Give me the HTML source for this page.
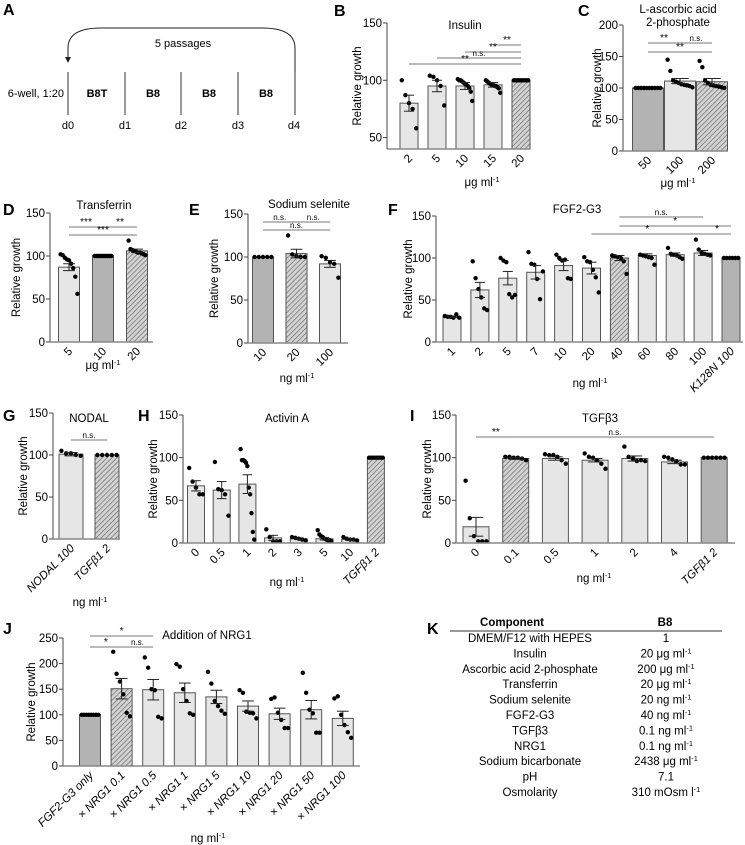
<!DOCTYPE html>
<html><head><meta charset="utf-8">
<style>
html,body{margin:0;padding:0;background:#fff;}
svg{display:block;font-family:"Liberation Sans",Arial,sans-serif;}
</style></head>
<body>
<svg id="fig" width="745" height="845" viewBox="0 0 745 845" xmlns="http://www.w3.org/2000/svg">
<defs>
<pattern id="hatch" patternUnits="userSpaceOnUse" width="3.5" height="3.5" patternTransform="rotate(45)">
<rect width="3.5" height="3.5" fill="#d4d4d4"/><line x1="0" y1="0" x2="0" y2="3.5" stroke="#6a6a6a" stroke-width="1.4"/>
</pattern>
</defs>
<!-- Panel A -->
<g font-size="11">
<text x="3" y="15" font-size="16" font-weight="bold">A</text>
<path d="M295,72 L295,48 Q295,28 262,28 L101,28 Q68,28 68,48 L68,58" fill="none" stroke="#222" stroke-width="1"/>
<path d="M65,57 L71,57 L68,63 Z" fill="#222"/>
<text x="183" y="47" text-anchor="middle">5 passages</text>
<g stroke="#333" stroke-width="1">
<line x1="68" y1="72" x2="68" y2="115"/><line x1="125" y1="72" x2="125" y2="115"/><line x1="181" y1="72" x2="181" y2="115"/><line x1="238" y1="72" x2="238" y2="115"/><line x1="295" y1="72" x2="295" y2="115"/>
</g>
<text x="64" y="97" text-anchor="end">6-well, 1:20</text>
<g font-weight="bold" text-anchor="middle">
<text x="97" y="97">B8T</text><text x="153" y="97">B8</text><text x="209" y="97">B8</text><text x="266" y="97">B8</text>
</g>
<g text-anchor="middle">
<text x="68" y="129">d0</text><text x="125" y="129">d1</text><text x="181" y="129">d2</text><text x="238" y="129">d3</text><text x="294" y="129">d4</text>
</g>
</g>
<!-- Panel K -->
<g font-size="11.5">
<text x="427" y="634" font-size="16" font-weight="bold">K</text>
<text x="512" y="626" text-anchor="middle" font-weight="bold">Component</text>
<text x="665" y="626" text-anchor="middle" font-weight="bold">B8</text>
<line x1="450" y1="631" x2="722" y2="631" stroke="#333" stroke-width="1"/>
<g id="ktable"></g>
</g>
<g id="charts"></g>
</svg>
<script>
// ---------- data ----------
const bCats=["2","5","10","15","20"];
const bMeans=[80,95,95,96,100];
const bSem=[7,5,3,2,0];
const bPts=[[100,87,80,75,58],[104,103,100,95,78],[101,100,100,99,98,97,96,95,93,90,82],[100,99,98,97,96,96,95,95,94,93,89],[100,100,100,100,100,100,100,100,100,100,100]];
const cCats=["50","100","200"];
const cMeans=[100,111,110];
const cSem=[0,4,5];
const cPts=[[100,100,100,100,100,100,100,100,100,100],[145,127,112,110,108,106,105,104,103,101],[143,133,112,108,105,104,103,102,101,100]];
const dCats=["5","10","20"];
const dMeans=[87,100,106];
const dSem=[4,0,2];
const dPts=[[102,101,98,96,95,91,86,76,56],[100,100,100,100,100,100,100,100,100,100],[118,108,107,106,105,104,104,103,102,101]];
const eCats=["10","20","100"];
const eMeans=[100,104,92];
const eSem=[0,5,4];
const ePts=[[100,100,100,100,100],[125,103,101,100,100],[101,99,94,92,76]];
const fCats=["1","2","5","7","10","20","40","60","80","100","K128N 100"];
const fMeans=[30,62,76,83,91,88,100,103,104,106,100];
const fSem=[1,9,8,8,6,7,3,2,2,3,0];
const fPts=[[31,30,30,29,33,29],[96,76,63,53,40,38],[100,97,95,57,53,56],[107,93,92,75,51,84],[104,100,97,98,76,75],[101,96,95,86,77,59],[103,102,101,100,96,81],[104,103,102,101,100,92],[112,105,104,103,101,99],[122,110,106,105,104,103],[100,100,100,100,100,100]];
const gCats=["NODAL 100","TGFβ1 2"];
const gMeans=[101,100];
const gSem=[2,0];
const gPts=[[105,102,102,100,99],[100,100,100,100,100]];
const hCats=["0","0.5","1","2","3","5","10","TGFβ1 2"];
const hMeans=[67,62,69,6,5,5,4,100];
const hSem=[6,10,11,3,1,1.5,1,0];
const hPts=[[88,72,65,57,57],[95,63,62,57,32],[110,97,97,96,94,90,65,57,35,13,4],[16,7,2,2,2],[7,6,5,4,3],[15,10,8,7,5,4,3,3,2],[7,5,4,4,3],[100,100,100,100,100,100,100,100]];
const iCats=["0","0.1","0.5","1","2","4","TGFβ1 2"];
const iMeans=[19,99,99,97,99,95,100];
const iSem=[11,1,2,2,3,2,0];
const iPts=[[73,29,8,2,2,2],[101,101,100,100,99,97],[104,103,103,101,97,93],[105,101,100,97,93,87],[113,101,99,96,97,96],[101,100,98,96,92,92],[100,100,100,100,100,100]];
const jCats=["FGF2-G3 only","× NRG1 0.1","× NRG1 0.5","× NRG1 1","× NRG1 5","× NRG1 10","× NRG1 20","× NRG1 50","× NRG1 100"];
const jMeans=[100,151,149,143,135,117,102,110,93];
const jSem=[0,20,20,19,13,10,11,18,14];
const jPts=[[100,100,100,100,100,100,100,100],[223,180,165,140,104,97],[212,192,150,148,96,93],[199,194,150,127,103,100],[184,161,127,117,108,102],[148,143,106,104,103,93],[131,134,104,90,74,74],[182,143,110,103,65,65],[132,136,100,80,66,55]];
const kComponents=["DMEM/F12 with HEPES","Insulin","Ascorbic acid 2-phosphate","Transferrin","Sodium selenite","FGF2-G3","TGFβ3","NRG1","Sodium bicarbonate","pH","Osmolarity"];
const kValues=["1","20 μg ml|-1","200 μg ml|-1","20 μg ml|-1","20 ng ml|-1","40 ng ml|-1","0.1 ng ml|-1","0.1 ng ml|-1","2438 μg ml|-1","7.1","310 mOsm l|-1"];

// ---------- helpers ----------
const NS='http://www.w3.org/2000/svg';
function mk(tag,attrs,parent){const e=document.createElementNS(NS,tag);for(const k in attrs)e.setAttribute(k,attrs[k]);parent.appendChild(e);return e;}
function supText(parent,x,y,str,anchor,fs){
  const t=mk('text',{x:x,y:y,'text-anchor':anchor,'font-size':fs},parent);
  const parts=str.split('|');
  t.appendChild(document.createTextNode(parts[0]));
  if(parts[1]){const s=mk('tspan',{'font-size':fs*0.65,dy:-4},t);s.textContent=parts[1];}
  return t;
}
const charts=document.getElementById('charts');
const fillFor={l:'#e6e6e6',d:'#b3b3b3',h:'url(#hatch)'};

function drawChart(p){
  const g=mk('g',{},charts);
  
  
  const yS=v=>p.yBot-(v-p.vmin)*(p.yBot-p.yTop)/(p.vmax-p.vmin);
  const xS=i=>p.c0+i*p.step;
  const L=mk('text',{x:p.lx,y:p.ly,'font-size':16,'font-weight':'bold'},g);
  L.textContent=p.id.toUpperCase();
  
  
  p.title.forEach((tl,k)=>{
    const t=mk('text',{x:p.tx,y:p.ty+k*13,'text-anchor':'middle','font-size':11.5},g);
    t.textContent=tl;
    
    
  });
  const ya=mk('line',{x1:p.ax,y1:yS(p.vmin),x2:p.ax,y2:yS(p.vmax),stroke:'#444','stroke-width':1},g);
  
  
  p.ticks.forEach(v=>{
    mk('line',{x1:p.ax-4,y1:yS(v),x2:p.ax,y2:yS(v),stroke:'#444','stroke-width':1},g);
    const t=mk('text',{x:p.ax-5,y:yS(v)+4,'text-anchor':'end','font-size':11.5},g);
    t.textContent=v;
    
    
  });
  const yt=mk('text',{x:0,y:0,'text-anchor':'middle','font-size':11.5,transform:`translate(${p.ytx},${(p.yBot+p.yTop)/2}) rotate(-90)`},g);
  yt.textContent='Relative growth';
  
  
  p.means.forEach((m,i)=>{
    const cx=xS(i);
    const r=mk('rect',{x:cx-p.bw/2,y:yS(m),width:p.bw,height:yS(p.vmin)-yS(m),fill:fillFor[p.kinds[i]],stroke:'#555','stroke-width':1},g);
    
    
  });
  p.pts.forEach((arr,i)=>{
    const cx=xS(i),n=arr.length,span=p.bw*0.8;
    arr.forEach((v,k)=>{
      const dx=n>1?-span/2+span*k/(n-1):0;
      const c=mk('circle',{cx:cx+dx,cy:yS(v),r:2.2,fill:'#000'},g);
      
      
    });
  });
  p.means.forEach((m,i)=>{
    const s=p.sem[i];if(!s)return;
    const cx=xS(i),w=p.bw*0.28;
    const eg=mk('g',{stroke:'#222','stroke-width':1},g);
    
    
    mk('line',{x1:cx,y1:yS(m-s),x2:cx,y2:yS(m+s)},eg);
    mk('line',{x1:cx-w,y1:yS(m+s),x2:cx+w,y2:yS(m+s)},eg);
    mk('line',{x1:cx-w,y1:yS(m-s),x2:cx+w,y2:yS(m-s)},eg);
  });
  const xa=mk('line',{x1:p.ax,y1:yS(p.vmin),x2:p.xEnd,y2:yS(p.vmin),stroke:'#888','stroke-width':1.6},g);
  
  
  p.cats.forEach((c,i)=>{
    const x=xS(i)+4,y=yS(p.vmin)+10;
    const it=/[A-Za-z×]/.test(c);
    const t=mk('text',{x:x,y:y,'text-anchor':'end','font-size':11.5,'font-style':it?'italic':'normal',transform:`rotate(-45 ${x} ${y})`},g);
    t.textContent=c;
    
    
  });
  const u=supText(g,p.ux,p.uy,p.unit,'middle',11.5);
  
  
  p.stats.forEach(s=>{
    const x1=xS(s[0]),x2=xS(s[1]);
    const ln=mk('line',{x1:x1,y1:s[2],x2:x2,y2:s[2],stroke:'#777','stroke-width':1},g);
    
    
    const t=mk('text',{x:(x1+x2)/2,y:s[2]-2,'text-anchor':'middle','font-size':s[3]==='n.s.'?8:10},g);
    t.textContent=s[3];
    
    
  });
}

drawChart({id:'b',cats:bCats,means:bMeans,sem:bSem,pts:bPts,kinds:['l','l','l','l','h'],ax:387,yBot:149,yTop:23,vmin:40,vmax:150,ticks:[50,100,150],c0:409,step:28,bw:18,xEnd:530,lx:334,ly:16,title:['Insulin'],tx:465,ty:29,unit:'μg ml|-1',ux:482,uy:186,ytx:361,
  stats:[[3,4,45,'**'],[2,4,52,'**'],[1,4,58,'n.s.'],[0,4,64,'**']]});
drawChart({id:'c',cats:cCats,means:cMeans,sem:cSem,pts:cPts,kinds:['d','l','h'],ax:623,yBot:151,yTop:25,vmin:0,vmax:200,ticks:[0,50,100,150,200],c0:648,step:32,bw:31,xEnd:728,lx:578,ly:16,title:['L-ascorbic acid','2-phosphate'],tx:678,ty:13,unit:'μg ml|-1',ux:678,uy:187,ytx:601,
  stats:[[0,1,43,'**'],[1,2,43,'n.s.'],[0,2,52,'**']]});
drawChart({id:'d',cats:dCats,means:dMeans,sem:dSem,pts:dPts,kinds:['l','d','h'],ax:50,yBot:342,yTop:213,vmin:0,vmax:150,ticks:[0,50,100,150],c0:69,step:34,bw:21,xEnd:153,lx:3,ly:215,title:['Transferrin'],tx:104,ty:209,unit:'μg ml|-1',ux:103,uy:369,ytx:20,
  stats:[[0,1,227,'***'],[1,2,227,'**'],[0,2,235,'***']]});
drawChart({id:'e',cats:eCats,means:eMeans,sem:eSem,pts:ePts,kinds:['d','h','l'],ax:248,yBot:343,yTop:214,vmin:0,vmax:150,ticks:[0,50,100,150],c0:263,step:33.5,bw:21,xEnd:348,lx:189,ly:215,title:['Sodium selenite'],tx:309,ty:208,unit:'ng ml|-1',ux:297,uy:382,ytx:218,
  stats:[[0,1,222,'n.s.'],[1,2,222,'n.s.'],[0,2,230,'n.s.']]});
drawChart({id:'f',cats:fCats,means:fMeans,sem:fSem,pts:fPts,kinds:['l','l','l','l','l','l','h','l','l','l','d'],ax:436,yBot:342,yTop:216,vmin:0,vmax:150,ticks:[0,50,100,150],c0:452,step:27.9,bw:18,xEnd:743,lx:388,ly:215,title:['FGF2-G3'],tx:577,ty:213,unit:'ng ml|-1',ux:590,uy:387,ytx:412,
  stats:[[6,9,217,'n.s.'],[6,10,226,'*'],[5,9,234,'*'],[9,10,234,'*']]});
drawChart({id:'g',cats:gCats,means:gMeans,sem:gSem,pts:gPts,kinds:['l','h'],ax:53,yBot:539,yTop:413,vmin:0,vmax:150,ticks:[0,50,100,150],c0:71,step:36,bw:24,xEnd:120,lx:3,ly:421,title:['NODAL'],tx:89,ty:422,unit:'ng ml|-1',ux:90,uy:606,ytx:27,
  stats:[[0,1,440,'n.s.']]});
drawChart({id:'h',cats:hCats,means:hMeans,sem:hSem,pts:hPts,kinds:['l','l','l','l','l','l','l','h'],ax:183,yBot:543,yTop:415,vmin:0,vmax:150,ticks:[0,50,100,150],c0:196,step:25.7,bw:17,xEnd:384,lx:138,ly:421,title:['Activin A'],tx:287,ty:422,unit:'ng ml|-1',ux:287,uy:586,ytx:157,
  stats:[]});
drawChart({id:'i',cats:iCats,means:iMeans,sem:iSem,pts:iPts,kinds:['l','h','l','l','l','l','d'],ax:456,yBot:543,yTop:415,vmin:0,vmax:150,ticks:[0,50,100,150],c0:476,step:39.7,bw:26,xEnd:735,lx:410,ly:421,title:['TGFβ3'],tx:600,ty:422,unit:'ng ml|-1',ux:594,uy:582,ytx:431,
  stats:[[0,1,437,'**'],[1,6,437,'n.s.']]});
drawChart({id:'j',cats:jCats,means:jMeans,sem:jSem,pts:jPts,kinds:['d','h','l','l','l','l','l','l','l'],ax:63,yBot:766,yTop:638,vmin:0,vmax:250,ticks:[0,50,100,150,200,250],c0:90,step:31.6,bw:21,xEnd:360,lx:3,ly:634,title:['Addition of NRG1'],tx:207,ty:639,unit:'ng ml|-1',ux:208,uy:842,ytx:35,
  stats:[[0,2,636,'*'],[0,1,647,'*'],[1,2,647,'n.s.']]});

const kt=document.getElementById('ktable');
kComponents.forEach((c,i)=>{
  const y=642+i*15.4;
  const a=mk('text',{x:530,y:y,'text-anchor':'middle','font-size':11.5},kt);
  a.textContent=c;
  
  
  const b=supText(kt,666,y,kValues[i],'middle',11.5);
  
  
});
</script>
</body></html>
